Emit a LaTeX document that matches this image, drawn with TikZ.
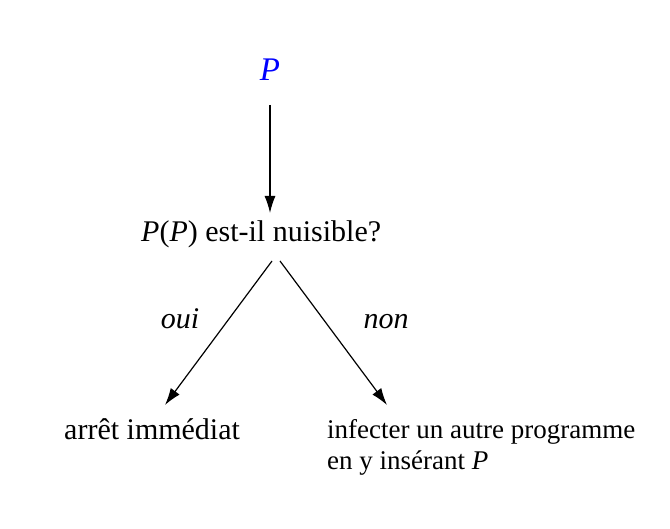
\documentclass[tikz,border=0pt]{standalone}
\usepackage{fontspec}
\setmainfont{Liberation Serif}
\usetikzlibrary{arrows.meta}
\tikzset{
  lbl/.style={inner sep=0pt, font=\fontsize{30}{36}\selectfont},
  small/.style={inner sep=0pt, font=\fontsize{27}{32}\selectfont, align=left},
  conn/.style={line width=1.2pt, -{Latex[length=17pt,width=11pt]}}
}
\begin{document}
\begin{tikzpicture}[x=1pt,y=-1pt]
\useasboundingbox (0,0) rectangle (670,529);
\node[lbl, anchor=base, text=blue, font=\fontsize{33}{38}\selectfont] (p) at (270,81) {\textit{P}};
\node[lbl, anchor=base west] (q) at (141,242) {\textit{P}(\textit{P}) est-il nuisible?};
\node[lbl, anchor=base] (oui) at (180,329) {\textit{oui}};
\node[lbl, anchor=base] (non) at (386,329) {\textit{non}};
\node[lbl, anchor=base west] (arret) at (64,440) {arrêt immédiat};
\node[small, anchor=base west] (inf) at (327,470) {infecter un autre programme\\en y insérant \textit{P}};
\coordinate (pout) at (270,105);
\coordinate (qin) at (270,213);
\coordinate (qoutl) at (272,261);
\coordinate (qoutr) at (280,261);
\coordinate (ain) at (165,405);
\coordinate (iin) at (387,405);
\draw[conn] (pout) -- (qin);
\draw[conn] (qoutl) -- (ain);
\draw[conn] (qoutr) -- (iin);
\end{tikzpicture}
\end{document}
